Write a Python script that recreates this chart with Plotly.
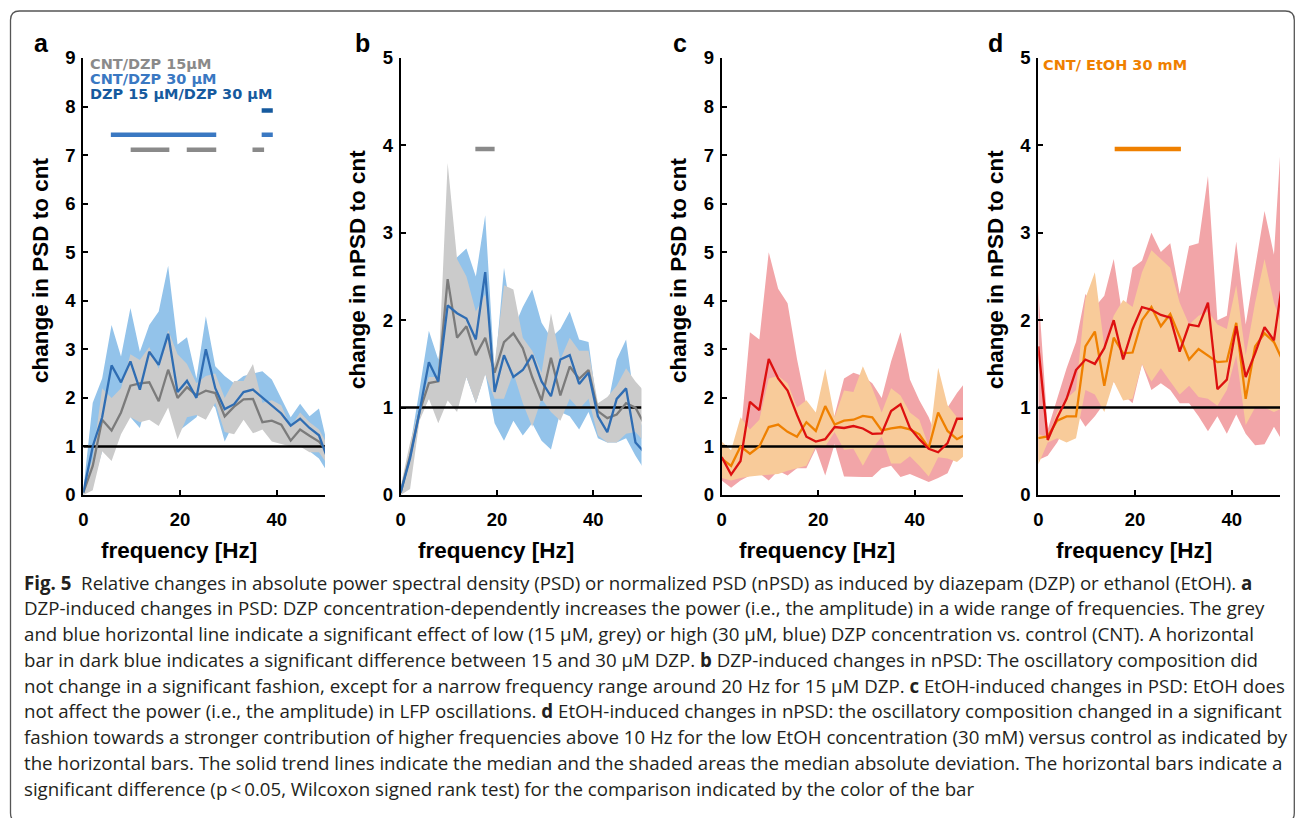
import plotly.graph_objects as go

W, H = 1295, 818

# ---------------- data ----------------
freq = [0, 1.95, 3.9, 5.85, 7.8, 9.75, 11.7, 13.65, 15.6, 17.55, 19.5, 21.45, 23.4, 25.35,
        27.3, 29.25, 31.2, 33.15, 35.1, 37.05, 39.0, 40.95, 42.9, 44.85, 46.8, 48.75, 50.7]

# panel a: change in PSD (DZP)
a_blue_med = [0.05, 1.0, 1.6, 2.67, 2.32, 2.75, 2.17, 2.95, 2.68, 3.32, 2.12, 2.35, 2.0, 3.0,
              2.2, 1.77, 1.87, 2.12, 2.17, 2.0, 1.83, 1.68, 1.43, 1.57, 1.38, 1.23, 0.7]
a_blue_up = [0.1, 1.9, 2.4, 3.5, 2.85, 3.85, 2.95, 3.5, 3.78, 4.72, 3.1, 3.25, 2.4, 3.68,
             2.65, 2.45, 2.3, 2.45, 2.5, 2.55, 2.38, 1.98, 1.6, 1.88, 1.62, 1.78, 0.95]
a_blue_lo = [0.0, 0.2, 0.9, 1.9, 2.0, 1.6, 1.38, 2.1, 1.85, 2.2, 1.3, 1.45, 1.6, 2.0,
             1.8, 1.1, 1.5, 1.65, 1.7, 1.55, 1.3, 1.2, 1.0, 1.05, 0.9, 0.75, 0.44]
a_gray_med = [0.05, 0.6, 1.55, 1.33, 1.7, 2.25, 2.3, 2.32, 1.93, 2.58, 2.0, 2.22, 2.05, 2.15,
              2.1, 1.62, 1.82, 1.97, 1.98, 1.5, 1.53, 1.45, 1.12, 1.35, 1.22, 1.1, 0.87]
a_gray_up = [0.15, 0.75, 2.2, 2.0, 2.2, 2.9, 2.78, 3.05, 2.6, 3.4, 2.9, 2.7, 2.3, 2.45,
             2.5, 2.0, 2.35, 2.35, 2.7, 1.9, 1.95, 1.85, 1.4, 1.7, 1.5, 1.35, 1.0]
a_gray_lo = [0.0, 0.1, 0.9, 0.7, 1.25, 1.6, 1.5, 1.55, 1.42, 1.8, 1.15, 1.6, 1.65, 1.55,
             1.9, 1.3, 1.25, 1.55, 1.27, 1.35, 1.1, 1.05, 1.0, 1.0, 0.88, 0.88, 0.6]
a_sig_gray = [(9.8, 17.8), (21.4, 27.5), (35.0, 37.4)]
a_sig_gray_y = 7.11
a_sig_blue = [(5.7, 27.5), (36.9, 39.2)]
a_sig_blue_y = 7.42
a_sig_dark = [(36.9, 39.2)]
a_sig_dark_y = 7.92
a_labels = ["CNT/DZP 15µM", "CNT/DZP 30 µM", "DZP 15 µM/DZP 30 µM"]

# panel b: change in nPSD (DZP)
b_blue_med = [0.03, 0.42, 0.95, 1.52, 1.3, 2.17, 2.08, 2.02, 1.78, 2.55, 1.18, 1.6, 1.35, 1.43,
              1.6, 1.3, 1.13, 1.55, 1.6, 1.27, 1.4, 0.9, 0.72, 1.1, 1.22, 0.6, 0.48]
b_blue_up = [0.05, 0.55, 1.2, 1.88, 1.55, 2.2, 2.72, 2.82, 2.5, 3.2, 1.4, 2.6, 1.9, 2.15,
             2.35, 1.97, 1.8, 1.9, 2.1, 1.78, 1.75, 0.95, 1.0, 1.55, 1.78, 1.0, 0.7]
b_blue_lo = [0.0, 0.3, 0.9, 1.1, 1.1, 1.12, 1.05, 1.35, 1.05, 1.4, 0.82, 0.62, 0.85, 0.68,
             0.82, 0.62, 0.52, 0.95, 0.9, 0.75, 0.95, 0.65, 0.6, 0.6, 0.65, 0.45, 0.28]
b_gray_med = [0.03, 0.45, 0.95, 1.28, 1.3, 2.47, 1.8, 1.93, 1.6, 1.8, 1.4, 1.75, 1.85, 1.68,
              1.35, 1.08, 1.57, 1.14, 1.47, 1.33, 1.43, 0.96, 0.88, 0.92, 1.05, 1.0, 0.8]
b_gray_up = [0.1, 0.6, 1.0, 1.35, 1.35, 3.8, 2.7, 2.5, 2.1, 2.3, 1.5, 2.4, 2.35, 1.8,
             1.65, 1.4, 2.08, 1.55, 1.8, 1.65, 1.65, 1.05, 1.12, 1.25, 1.45, 1.3, 1.18]
b_gray_lo = [0.0, 0.07, 0.85, 1.1, 0.82, 1.08, 0.95, 1.35, 1.05, 1.38, 1.1, 1.1, 1.4, 1.05,
             0.78, 1.1, 0.95, 0.85, 1.1, 0.98, 1.1, 0.68, 0.6, 0.6, 0.7, 0.72, 0.6]
b_sig_gray = [(15.5, 19.5)]
b_sig_gray_y = 3.96

# panel c: change in PSD (EtOH)
c_red_med = [0.78, 0.42, 0.7, 1.92, 1.75, 2.8, 2.4, 2.15, 1.65, 1.2, 1.1, 1.15, 1.4, 1.38,
             1.42, 1.37, 1.26, 1.27, 1.73, 1.87, 1.38, 1.15, 0.95, 0.88, 1.07, 1.57, 1.57]
c_red_up = [1.0, 0.5, 1.2, 3.35, 3.2, 5.0, 4.25, 3.95, 2.8, 1.85, 1.25, 1.2, 1.65, 2.4,
            2.52, 2.45, 2.3, 2.0, 2.75, 3.35, 2.38, 1.95, 1.6, 1.1, 1.8, 2.1, 2.35]
c_red_lo = [0.3, 0.15, 0.3, 0.4, 0.45, 0.3, 0.5, 0.4, 0.55, 0.55, 0.95, 0.4, 1.05, 0.38,
            0.37, 0.37, 0.37, 0.55, 0.6, 0.37, 0.43, 0.35, 0.27, 0.35, 0.45, 0.88, 0.9]
c_org_med = [0.75, 0.6, 1.0, 0.85, 1.0, 1.4, 1.45, 1.3, 1.2, 1.5, 1.32, 1.83, 1.45, 1.53,
             1.55, 1.63, 1.6, 1.33, 1.37, 1.4, 1.35, 1.25, 0.97, 1.7, 1.32, 1.15, 1.25]
c_org_up = [1.1, 0.92, 1.6, 1.35, 1.55, 2.4, 2.45, 2.3, 1.8, 1.95, 1.7, 2.6, 1.6, 2.15,
            2.12, 2.65, 2.2, 1.7, 2.2, 2.05, 1.7, 1.55, 1.0, 2.62, 1.85, 1.6, 1.55]
c_org_lo = [0.35, 0.3, 0.35, 0.38, 0.4, 0.42, 0.43, 0.5, 0.55, 0.6, 1.0, 1.0, 1.3, 0.93,
            0.95, 0.6, 0.95, 1.2, 0.65, 0.65, 0.8, 0.6, 0.38, 0.78, 0.75, 0.68, 0.85]

# panel d: change in nPSD (EtOH)
d_red_med = [1.7, 0.63, 0.88, 1.1, 1.43, 1.55, 1.5, 1.68, 2.0, 1.55, 1.9, 2.15, 2.12, 2.06,
             2.03, 1.64, 1.95, 1.93, 2.2, 1.21, 1.32, 1.93, 1.35, 1.62, 1.92, 1.77, 2.52]
d_red_up = [2.35, 0.75, 1.1, 1.45, 1.75, 2.3, 2.15, 2.28, 2.7, 2.0, 2.6, 2.68, 3.0, 2.78,
            2.88, 2.3, 2.85, 2.88, 3.65, 2.0, 2.05, 2.9, 1.95, 2.6, 3.25, 2.75, 4.5]
d_red_lo = [0.4, 0.45, 0.6, 0.8, 0.95, 0.78, 0.9, 1.05, 1.3, 1.15, 1.05, 1.5, 1.2, 1.28,
            1.2, 1.05, 1.05, 0.9, 0.73, 0.9, 0.7, 0.92, 0.7, 0.57, 0.58, 0.78, 0.6]
d_org_med = [0.65, 0.67, 0.85, 0.9, 0.9, 1.7, 1.87, 1.25, 1.8, 1.62, 1.63, 2.0, 2.15, 1.93,
             2.07, 1.8, 1.55, 1.67, 1.6, 1.52, 1.53, 1.97, 1.1, 1.7, 1.85, 1.75, 1.52]
d_org_up = [0.7, 0.65, 0.95, 1.1, 1.2, 2.25, 2.55, 1.7, 2.05, 2.23, 2.15, 2.55, 2.8, 2.7,
            2.6, 2.2, 1.95, 2.05, 2.1, 1.95, 1.9, 2.4, 1.6, 2.2, 2.7, 2.2, 1.9]
d_org_lo = [0.35, 0.6, 0.65, 0.6, 0.65, 1.2, 1.15, 0.95, 1.3, 1.08, 1.1, 1.5, 1.3, 1.45,
            1.3, 1.15, 1.25, 1.12, 1.1, 1.02, 1.2, 1.6, 0.8, 1.0, 1.0, 0.95, 1.0]
d_sig_org = [(15.8, 29.5)]
d_sig_org_y = 3.96
d_labels = ["CNT/ EtOH 30 mM"]

ylabels = ["change in PSD to cnt", "change in nPSD to cnt", "change in PSD to cnt", "change in nPSD to cnt"]
xlabel = "frequency [Hz]"
panel_letters = ["a", "b", "c", "d"]
ymax = [9, 5, 9, 5]
xticks = [0, 20, 40]

caption = [
    "<b>Fig. 5</b>  Relative changes in absolute power spectral density (PSD) or normalized PSD (nPSD) as induced by diazepam (DZP) or ethanol (EtOH). <b>a</b>",
    "DZP-induced changes in PSD: DZP concentration-dependently increases the power (i.e., the amplitude) in a wide range of frequencies. The grey",
    "and blue horizontal line indicate a significant effect of low (15 µM, grey) or high (30 µM, blue) DZP concentration vs. control (CNT). A horizontal",
    "bar in dark blue indicates a significant difference between 15 and 30 µM DZP. <b>b</b> DZP-induced changes in nPSD: The oscillatory composition did",
    "not change in a significant fashion, except for a narrow frequency range around 20 Hz for 15 µM DZP. <b>c</b> EtOH-induced changes in PSD: EtOH does",
    "not affect the power (i.e., the amplitude) in LFP oscillations. <b>d</b> EtOH-induced changes in nPSD: the oscillatory composition changed in a significant",
    "fashion towards a stronger contribution of higher frequencies above 10 Hz for the low EtOH concentration (30 mM) versus control as indicated by",
    "the horizontal bars. The solid trend lines indicate the median and the shaded areas the median absolute deviation. The horizontal bars indicate a",
    "significant difference (p\u2009<\u20090.05, Wilcoxon signed rank test) for the comparison indicated by the color of the bar",
]

# ---------------- style ----------------
C_GRAY_LINE = "#7b7b7b"
C_GRAY_BAND = "#cbcbcb"
C_BLUE_LINE = "#2f6db3"
C_BLUE_BAND = "#93c3ea"
C_DARK_BLUE = "#165a9e"
C_BLUE_TXT = "#3a78c2"
C_GRAY_TXT = "#8a8a8a"
C_RED_LINE = "#dd1010"
C_RED_BAND = "#f2a5a8"
C_ORG_LINE = "#ef8000"
C_ORG_BAND = "#f8cb9a"

AXFONT = "Liberation Sans, Arial, sans-serif"

# panel pixel geometry: (left, right) for x 0..50 ; y from 495 (0) to 58 (ymax)
xpx = [(83.3, 325.0), (400.7, 641.5), (721.7, 963.0), (1038.3, 1280.0)]
ytop, ybot = 58.0, 495.0

def px(x):
    return x / W

def py(y):
    return 1 - y / H

fig = go.Figure()

def ax_ids(i):
    s = "" if i == 0 else str(i + 1)
    return "x" + s, "y" + s

def add_band(i, up, lo, color):
    xa, ya = ax_ids(i)
    fig.add_trace(go.Scatter(x=freq + freq[::-1], y=up + lo[::-1], fill="toself",
                             fillcolor=color, line=dict(width=0), mode="lines",
                             xaxis=xa, yaxis=ya, showlegend=False, hoverinfo="skip"))

def add_line(i, xs, ys, color, width):
    xa, ya = ax_ids(i)
    fig.add_trace(go.Scatter(x=xs, y=ys, mode="lines", line=dict(color=color, width=width),
                             xaxis=xa, yaxis=ya, showlegend=False, hoverinfo="skip"))

def add_bars(i, segs, yv, color):
    for x0, x1 in segs:
        add_line(i, [x0, x1], [yv, yv], color, 4.5)

# panel a
add_band(0, a_blue_up, a_blue_lo, C_BLUE_BAND)
add_band(0, a_gray_up, a_gray_lo, C_GRAY_BAND)
add_line(0, [0, 50], [1, 1], "black", 2.5)
add_line(0, freq, a_gray_med, C_GRAY_LINE, 2.3)
add_line(0, freq, a_blue_med, C_BLUE_LINE, 2.3)
add_bars(0, a_sig_gray, a_sig_gray_y, C_GRAY_TXT)
add_bars(0, a_sig_blue, a_sig_blue_y, C_BLUE_TXT)
add_bars(0, a_sig_dark, a_sig_dark_y, C_DARK_BLUE)

# panel b
add_band(1, b_blue_up, b_blue_lo, C_BLUE_BAND)
add_band(1, b_gray_up, b_gray_lo, C_GRAY_BAND)
add_line(1, [0, 50], [1, 1], "black", 2.5)
add_line(1, freq, b_gray_med, C_GRAY_LINE, 2.3)
add_line(1, freq, b_blue_med, C_BLUE_LINE, 2.3)
add_bars(1, b_sig_gray, b_sig_gray_y, C_GRAY_TXT)

# panel c
add_band(2, c_red_up, c_red_lo, C_RED_BAND)
add_band(2, c_org_up, c_org_lo, C_ORG_BAND)
add_line(2, [0, 50], [1, 1], "black", 2.5)
add_line(2, freq, c_org_med, C_ORG_LINE, 2.3)
add_line(2, freq, c_red_med, C_RED_LINE, 2.3)

# panel d
add_band(3, d_red_up, d_red_lo, C_RED_BAND)
add_band(3, d_org_up, d_org_lo, C_ORG_BAND)
add_line(3, [0, 50], [1, 1], "black", 2.5)
add_line(3, freq, d_org_med, C_ORG_LINE, 2.3)
add_line(3, freq, d_red_med, C_RED_LINE, 2.3)
add_bars(3, d_sig_org, d_sig_org_y, C_ORG_LINE)

layout = dict(width=W, height=H, margin=dict(l=0, r=0, t=0, b=0, pad=0, autoexpand=False),
              paper_bgcolor="white", plot_bgcolor="white", showlegend=False)

tickfont = dict(family=AXFONT, size=18.5, color="black", weight="bold")
for i in range(4):
    s = "" if i == 0 else str(i + 1)
    xa = "xaxis" + s
    ya = "yaxis" + s
    layout[xa] = dict(domain=[px(xpx[i][0]), px(xpx[i][1])], range=[0, 50], anchor="y" + s,
                      showline=True, linecolor="black", linewidth=2, ticks="inside",
                      ticklen=5, tickwidth=2, tickcolor="black", tickvals=xticks,
                      showgrid=False, zeroline=False, tickfont=tickfont, ticklabelstandoff=7,
                      automargin=False)
    layout[ya] = dict(domain=[py(ybot), py(ytop)], range=[0, ymax[i]], anchor="x" + s,
                      showline=True, linecolor="black", linewidth=2, ticks="inside",
                      ticklen=5, tickwidth=2, tickcolor="black", dtick=1,
                      showgrid=False, zeroline=False, tickfont=tickfont, ticklabelstandoff=2,
                      automargin=False)

fig.update_layout(**layout)

ann = []
ytitle_x = [40, 357, 678, 995]
xtitle_x = [179, 496, 817, 1134]
letter_x = [41, 362, 680, 995]
for i in range(4):
    ann.append(dict(x=px(ytitle_x[i]), y=py(270), xref="paper", yref="paper", text=ylabels[i],
                    textangle=-90, showarrow=False, xanchor="center", yanchor="middle",
                    font=dict(family=AXFONT, size=22.5, color="black", weight="bold")))
    ann.append(dict(x=px(xtitle_x[i]), y=py(550), xref="paper", yref="paper", text=xlabel,
                    showarrow=False, xanchor="center", yanchor="middle",
                    font=dict(family=AXFONT, size=22.5, color="black", weight="bold")))
    ann.append(dict(x=px(letter_x[i]), y=py(43), xref="paper", yref="paper", text=panel_letters[i],
                    showarrow=False, xanchor="center", yanchor="middle",
                    font=dict(family=AXFONT, size=25, color="black", weight="bold")))

leg_colors = [C_GRAY_TXT, C_BLUE_TXT, C_DARK_BLUE]
leg_y = [64, 79.3, 94]
for t, c, yy in zip(a_labels, leg_colors, leg_y):
    ann.append(dict(x=px(88), y=py(yy), xref="paper", yref="paper", text=t, showarrow=False,
                    xanchor="left", yanchor="middle",
                    font=dict(family="DejaVu Sans", size=14.5, color=c, weight="bold")))
ann.append(dict(x=px(1041), y=py(65), xref="paper", yref="paper", text=d_labels[0], showarrow=False,
                xanchor="left", yanchor="middle",
                font=dict(family="DejaVu Sans", size=14.5, color=C_ORG_LINE, weight="bold")))

cap_y = [582, 607.8, 633.5, 659.3, 685, 710.8, 736.5, 762.3, 788]
for t, yy in zip(caption, cap_y):
    ann.append(dict(x=px(22), y=py(yy), xref="paper", yref="paper", text=t, showarrow=False,
                    xanchor="left", yanchor="middle",
                    font=dict(family="Open Sans, sans-serif", size=18.7, color="#231f20")))

fig.update_layout(annotations=ann)

x0, x1, y0, y1, r = 10.5, 1294.3, 11.0, 822.0, 9.0
def P(x, y):
    return f"{px(x):.5f},{py(y):.5f}"
path = (f"M {P(x0 + r, y0)} L {P(x1 - r, y0)} Q {P(x1, y0)} {P(x1, y0 + r)} "
        f"L {P(x1, y1 - r)} Q {P(x1, y1)} {P(x1 - r, y1)} L {P(x0 + r, y1)} "
        f"Q {P(x0, y1)} {P(x0, y1 - r)} L {P(x0, y0 + r)} Q {P(x0, y0)} {P(x0 + r, y0)} Z")
fig.update_layout(shapes=[dict(type="path", path=path, xref="paper", yref="paper",
                               line=dict(color="#555555", width=1.3))])

fig.write_html("out.html")
